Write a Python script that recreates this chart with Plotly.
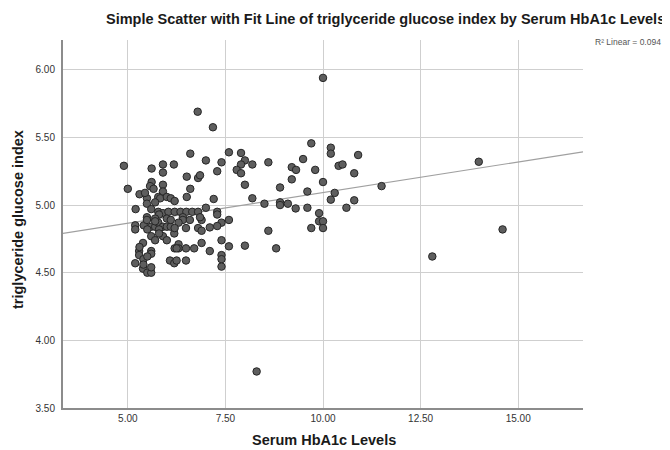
import plotly.graph_objects as go

# Serum HbA1c (x) and triglyceride glucose index (y)
hba1c = [
    4.90, 5.00, 5.20, 5.30, 5.19, 5.19, 5.41, 5.39, 5.29, 5.29, 5.19, 5.40, 5.39, 5.50, 5.60,
    5.60, 5.60, 5.60, 5.49, 5.49, 5.60, 5.70, 5.60, 5.70, 5.49, 5.49, 5.61, 5.57, 5.66, 5.61,
    5.90, 5.90, 6.18, 5.90, 5.90, 5.44, 5.78, 5.83, 6.00, 6.10, 5.70, 6.20,
    5.78, 5.90, 6.04, 6.20, 6.35, 6.50, 6.65, 6.80,
    5.78, 5.90, 6.00, 5.90, 6.19, 6.30, 6.30, 6.20, 6.08, 6.19, 6.49, 6.49, 6.70, 6.89, 6.49,
    6.41, 6.41, 6.59, 6.80, 6.89, 6.51, 6.51, 6.60, 6.60, 6.80, 6.79,
    5.80, 5.70, 6.00, 5.60, 5.80, 6.10, 6.30, 5.50, 5.80, 6.10, 6.25, 6.25, 5.30, 5.40, 5.50,
    5.70, 6.20, 6.00,
    7.18, 7.59, 7.90, 8.00, 7.90, 7.79, 7.90, 8.19, 8.60, 7.40, 7.00, 7.29, 6.85, 8.00, 8.90,
    9.20, 9.31, 9.20, 9.49, 9.70, 9.80, 9.60, 10.00, 10.20, 10.20, 10.40, 10.50, 10.80, 10.90,
    10.30, 10.20, 10.80, 10.60, 8.19, 8.50, 8.90, 8.90, 9.10, 9.30, 9.60, 9.90, 9.90, 10.00,
    9.70, 10.00, 7.20, 7.00, 7.29, 7.29, 7.59, 7.40, 7.29, 7.10, 6.89, 7.40, 8.60, 7.10, 7.59,
    8.00, 8.80, 7.40, 7.40, 7.40, 6.85,
    10.00, 8.30, 12.80, 14.60, 13.99, 11.50,
]
tyg = [
    5.29, 5.12, 4.97, 5.08, 4.85, 4.82, 4.85, 4.72, 4.66, 4.63, 4.57, 4.60, 4.53, 4.50, 4.50,
    4.54, 4.66, 4.64, 4.91, 4.89, 4.84, 4.84, 4.77, 4.74, 5.05, 5.01, 5.17, 5.14, 5.12, 5.27,
    5.30, 5.24, 5.30, 5.15, 5.10, 5.09, 5.06, 5.05, 5.06, 5.05, 5.02, 5.03,
    4.95, 4.94, 4.95, 4.95, 4.95, 4.95, 4.95, 4.95,
    4.87, 4.84, 4.84, 4.77, 4.79, 4.71, 4.68, 4.68, 4.59, 4.57, 4.59, 4.68, 4.68, 4.72, 4.83,
    4.91, 4.89, 4.89, 4.83, 4.89, 5.06, 5.21, 5.12, 5.38, 5.20, 5.69,
    4.93, 4.90, 4.90, 4.97, 4.82, 4.84, 4.87, 4.82, 4.79, 4.89, 4.68, 4.59, 4.69, 4.56, 4.62,
    4.88, 4.83, 4.74,
    5.575, 5.39, 5.385, 5.33, 5.30, 5.26, 5.235, 5.30, 5.316, 5.316, 5.33, 5.25, 5.22, 5.15, 5.13,
    5.28, 5.26, 5.19, 5.34, 5.456, 5.26, 5.10, 5.17, 5.424, 5.38, 5.29, 5.30, 5.235, 5.37,
    5.09, 5.04, 5.035, 4.98, 5.05, 5.01, 5.02, 5.00, 5.01, 4.975, 4.98, 4.94, 4.88, 4.88,
    4.83, 4.83, 5.045, 4.98, 4.95, 4.93, 4.89, 4.87, 4.845, 4.835, 4.81, 4.74, 4.81, 4.66, 4.695,
    4.70, 4.68, 4.63, 4.60, 4.545, 4.91,
    5.94, 3.77, 4.62, 4.82, 5.32, 5.14,
]

# Linear fit: y = intercept + slope * x
fit_intercept = 4.639
fit_slope = 0.0453
r2_text = "R² Linear = 0.094"

x_ticks = [5.0, 7.5, 10.0, 12.5, 15.0]
y_ticks = [3.5, 4.0, 4.5, 5.0, 5.5, 6.0]
x_range = [3.34, 16.66]
y_range = [3.5, 6.22]

# The page body has an 8px default margin, so the figure is sized to fit the window.
OFF = 8
WIN_W, WIN_H = 670, 450
W, H = WIN_W - OFF, WIN_H - OFF
PL, PR, PT, PB = 63, 583, 40, 408      # plot area in window pixels
L, T = PL - OFF, PT - OFF
R, B = W - (PL - OFF) - (PR - PL), H - (PT - OFF) - (PB - PT)


def px(xw):
    return (xw - PL) / (PR - PL)


def py(yw):
    return (PB - yw) / (PB - PT)


fig = go.Figure()
fig.add_trace(go.Scatter(
    x=x_range,
    y=[fit_intercept + fit_slope * v for v in x_range],
    mode="lines",
    line=dict(color="#a0a0a0", width=1.2),
    hoverinfo="skip",
    showlegend=False,
))
fig.add_trace(go.Scatter(
    x=hba1c, y=tyg, mode="markers",
    marker=dict(size=7.5, color="#5e5e5e", line=dict(color="#262626", width=1)),
    showlegend=False,
))

axis_common = dict(
    showgrid=True, gridcolor="#cfcfcf", gridwidth=1,
    zeroline=False, ticks="", showline=True, linecolor="#8c8c8c", linewidth=2,
    tickfont=dict(family="Liberation Sans, Arial, sans-serif", size=10, color="#333333"),
)
fig.update_xaxes(range=x_range, tickvals=x_ticks, ticktext=[f"{v:.2f}" for v in x_ticks],
                 **axis_common)
fig.update_yaxes(range=y_range, tickvals=y_ticks, ticktext=[f"{v:.2f}" for v in y_ticks],
                 ticklabelstandoff=4, **axis_common)

font_b = "Liberation Sans, Arial, sans-serif"
fig.update_layout(
    width=W, height=H,
    margin=dict(l=L, r=R, t=T, b=B),
    paper_bgcolor="white", plot_bgcolor="white",
    annotations=[
        dict(text="<b>Simple Scatter with Fit Line of triglyceride glucose index by Serum HbA1c Levels</b>",
             xref="paper", yref="paper", x=px(667), y=py(19), xanchor="right", yanchor="middle",
             showarrow=False, font=dict(family=font_b, size=14.5, color="#1a1a1a")),
        dict(text=r2_text, xref="paper", yref="paper", x=px(663), y=py(42),
             xanchor="right", yanchor="middle", showarrow=False,
             font=dict(family=font_b, size=8.5, color="#555555")),
        dict(text="<b>Serum HbA1c Levels</b>", xref="paper", yref="paper", x=px(324), y=py(440),
             xanchor="center", yanchor="middle", showarrow=False,
             font=dict(family=font_b, size=14.5, color="#1a1a1a")),
        dict(text="<b>triglyceride glucose index</b>", xref="paper", yref="paper", x=px(18), y=py(220),
             xanchor="center", yanchor="middle", textangle=-90, showarrow=False,
             font=dict(family=font_b, size=14.5, color="#1a1a1a")),
    ],
)

fig.write_html("out.html")
